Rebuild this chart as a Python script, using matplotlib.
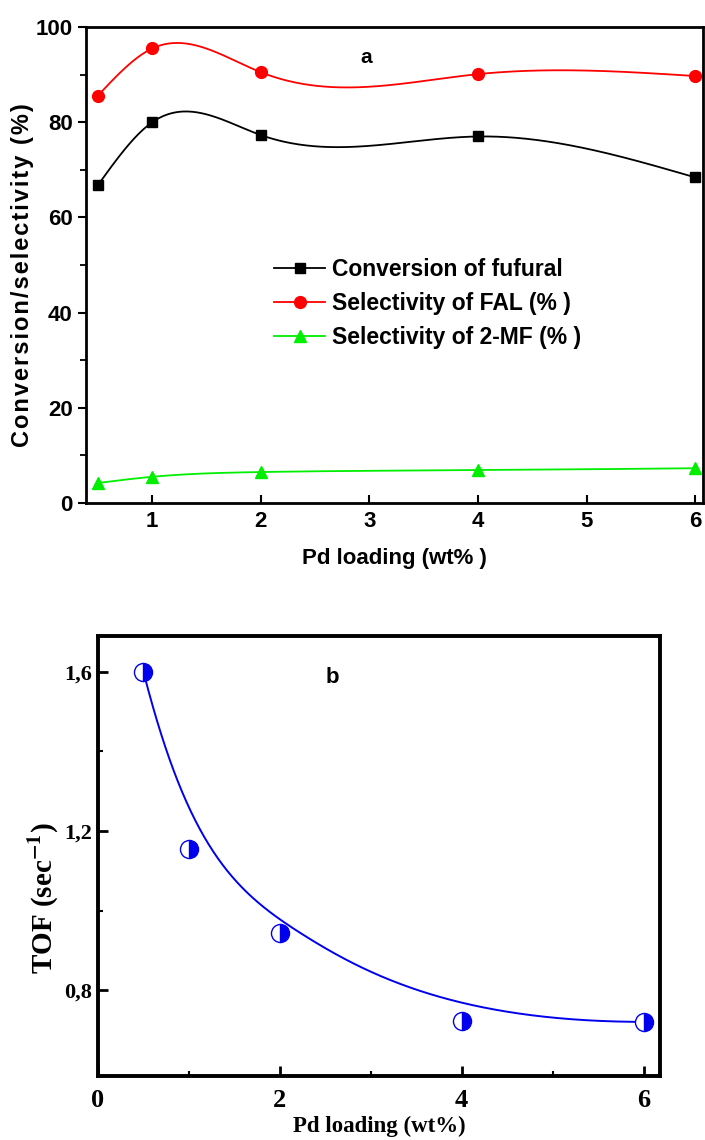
import numpy as np
import matplotlib.pyplot as plt
from matplotlib.ticker import MultipleLocator, FixedLocator

plt.rcParams['mathtext.fontset'] = 'stix'

# Pd loading (wt%)
pd_loading = [0.5, 1, 2, 4, 6]

# panel a: conversion / selectivity (%)
conversion = [66.8, 80.0, 77.3, 77.0, 68.4]
sel_fal = [85.6, 95.5, 90.5, 90.1, 89.7]
sel_2mf = [4.2, 5.5, 6.5, 6.9, 7.3]

# panel b: TOF (sec-1)
tof = [1.60, 1.155, 0.943, 0.722, 0.721]
tof_ticks = [0.8, 1.2, 1.6]
tof_ticklabels = ['0,8', '1,2', '1,6']


def natural_spline(x, y, xs):
    # natural cubic spline through the points, evaluated at xs
    x = np.asarray(x, float)
    y = np.asarray(y, float)
    n = len(x)
    h = np.diff(x)
    A = np.zeros((n, n))
    b = np.zeros(n)
    A[0, 0] = A[-1, -1] = 1
    for i in range(1, n - 1):
        A[i, i - 1] = h[i - 1]
        A[i, i] = 2 * (h[i - 1] + h[i])
        A[i, i + 1] = h[i]
        b[i] = 3 * ((y[i + 1] - y[i]) / h[i] - (y[i] - y[i - 1]) / h[i - 1])
    c = np.linalg.solve(A, b)
    out = np.empty_like(xs)
    for k, xv in enumerate(xs):
        i = min(max(np.searchsorted(x, xv) - 1, 0), n - 2)
        dx = xv - x[i]
        bb = (y[i + 1] - y[i]) / h[i] - h[i] * (2 * c[i] + c[i + 1]) / 3
        d = (c[i + 1] - c[i]) / (3 * h[i])
        out[k] = y[i] + bb * dx + c[i] * dx ** 2 + d * dx ** 3
    return out


def bspline_curve(px, py, npts=400, k=3):
    # clamped uniform B-spline using the data points as control points
    P = np.column_stack([px, py]).astype(float)
    n = len(P)
    inner = np.linspace(0, 1, n - k + 1)[1:-1]
    knots = np.concatenate([np.zeros(k + 1), inner, np.ones(k + 1)])
    ts = np.linspace(0, 1, npts)
    ts[-1] -= 1e-10
    out = np.zeros((npts, 2))
    for j, t in enumerate(ts):
        # Cox-de Boor basis functions
        N = np.array([1.0 if knots[i] <= t < knots[i + 1] else 0.0
                      for i in range(len(knots) - 1)])
        for d in range(1, k + 1):
            Nn = np.zeros(len(knots) - 1 - d)
            for i in range(len(Nn)):
                a = 0.0
                if knots[i + d] > knots[i]:
                    a += (t - knots[i]) / (knots[i + d] - knots[i]) * N[i]
                if knots[i + d + 1] > knots[i + 1]:
                    a += (knots[i + d + 1] - t) / (knots[i + d + 1] - knots[i + 1]) * N[i + 1]
                Nn[i] = a
            N = Nn
        out[j] = N @ P
    return out[:, 0], out[:, 1]


SANS = ['Liberation Sans', 'DejaVu Sans']
SERIF = 'Liberation Serif'

fig = plt.figure(figsize=(7.05, 11.4), dpi=100)

# ---- panel a ----
ax1 = fig.add_axes([0.122, 0.5588, 0.875, 0.4175])
xs = np.linspace(pd_loading[0], pd_loading[-1], 400)
series = [
    (conversion, 'black', 's', 7, 'Conversion of fufural'),
    (sel_fal, 'red', 'o', 8.5, 'Selectivity of FAL (% )'),
    (sel_2mf, '#00ee00', '^', 8.5, 'Selectivity of 2-MF (% )'),
]
for vals, col, mk, ms, lab in series:
    ax1.plot(xs, natural_spline(pd_loading, vals, xs), color=col, lw=1.3)
    ax1.plot(pd_loading, vals, ls='none', marker=mk, ms=ms, color=col)
    # legend entry: line with marker
    ax1.plot([], [], color=col, lw=1.3, marker=mk, ms=ms, label=lab)

ax1.set_xlim(0.39, 6.07)
ax1.set_ylim(0, 100)
ax1.xaxis.set_major_locator(FixedLocator([1, 2, 3, 4, 5, 6]))
ax1.yaxis.set_major_locator(MultipleLocator(20))
ax1.yaxis.set_minor_locator(MultipleLocator(10))
ax1.tick_params(axis='x', direction='in', width=1.5, length=6, labelsize=16, pad=6)
ax1.tick_params(axis='y', direction='out', width=1.5, length=6, labelsize=16)
ax1.tick_params(axis='y', which='minor', direction='out', width=1.3, length=4)
for lbl in ax1.get_xticklabels() + ax1.get_yticklabels():
    lbl.set_fontweight('bold')
    lbl.set_family('Liberation Sans')
for s in ax1.spines.values():
    s.set_linewidth(2)
ax1.set_xlabel('Pd loading (wt% )', fontsize=16, fontweight='bold',
               family='Liberation Sans', labelpad=11)
# the label is drawn letter-spaced
ylab = '\u200a'.join('Conversion/selectivity (%)')
ax1.set_ylabel(ylab, fontsize=17, fontweight='bold', family=SANS)
ax1.yaxis.set_label_coords(-0.084, 0.479)
ax1.text(2.97, 93.5, 'a', fontsize=15, fontweight='bold',
         family='Liberation Sans', ha='center', va='center')
ax1.legend(loc='center left', bbox_to_anchor=(0.272, 0.42), frameon=False,
           handlelength=2.2, handletextpad=0.3, labelspacing=0.48,
           prop={'family': 'Liberation Sans', 'weight': 'bold', 'size': 16.5})

# ---- panel b ----
ax2 = fig.add_axes([0.139, 0.0561, 0.797, 0.386])
bx, by = bspline_curve(pd_loading, tof)
ax2.plot(bx, by, color='#0000ee', lw=1.4)
ax2.plot(pd_loading, tof, ls='none', marker='o', ms=13, fillstyle='right',
         markerfacecolor='#0000ee', markerfacecoloralt='white',
         markeredgecolor='#0000ee', markeredgewidth=1.0)

ax2.set_xlim(0, 6.18)
ax2.set_ylim(0.585, 1.69)
ax2.xaxis.set_major_locator(MultipleLocator(2))
ax2.xaxis.set_minor_locator(MultipleLocator(1))
ax2.yaxis.set_major_locator(FixedLocator(tof_ticks))
ax2.yaxis.set_minor_locator(FixedLocator([1.0, 1.4]))
ax2.set_yticklabels(tof_ticklabels)
ax2.tick_params(direction='in', width=2, length=7)
ax2.tick_params(axis='x', labelsize=19, pad=9)
ax2.tick_params(axis='y', labelsize=16, pad=4)
ax2.tick_params(which='minor', direction='in', width=1.5, length=3.5)
for lbl in ax2.get_xticklabels() + ax2.get_yticklabels():
    lbl.set_fontweight('bold')
    lbl.set_family(SERIF)
for s in ax2.spines.values():
    s.set_linewidth(2.8)
ax2.set_xlabel('Pd loading (wt%)', fontsize=16.5, fontweight='bold',
               family=SERIF, labelpad=3)
ax2.set_ylabel('TOF (sec$^{\\mathbf{-1}}$)', fontsize=21, fontweight='bold',
               family=SERIF)
ax2.yaxis.set_label_coords(-0.065, 0.405)
ax2.text(2.58, 1.585, 'b', fontsize=16, fontweight='bold',
         family='Liberation Sans', ha='center', va='center')

fig.savefig('out.png', dpi=100)
